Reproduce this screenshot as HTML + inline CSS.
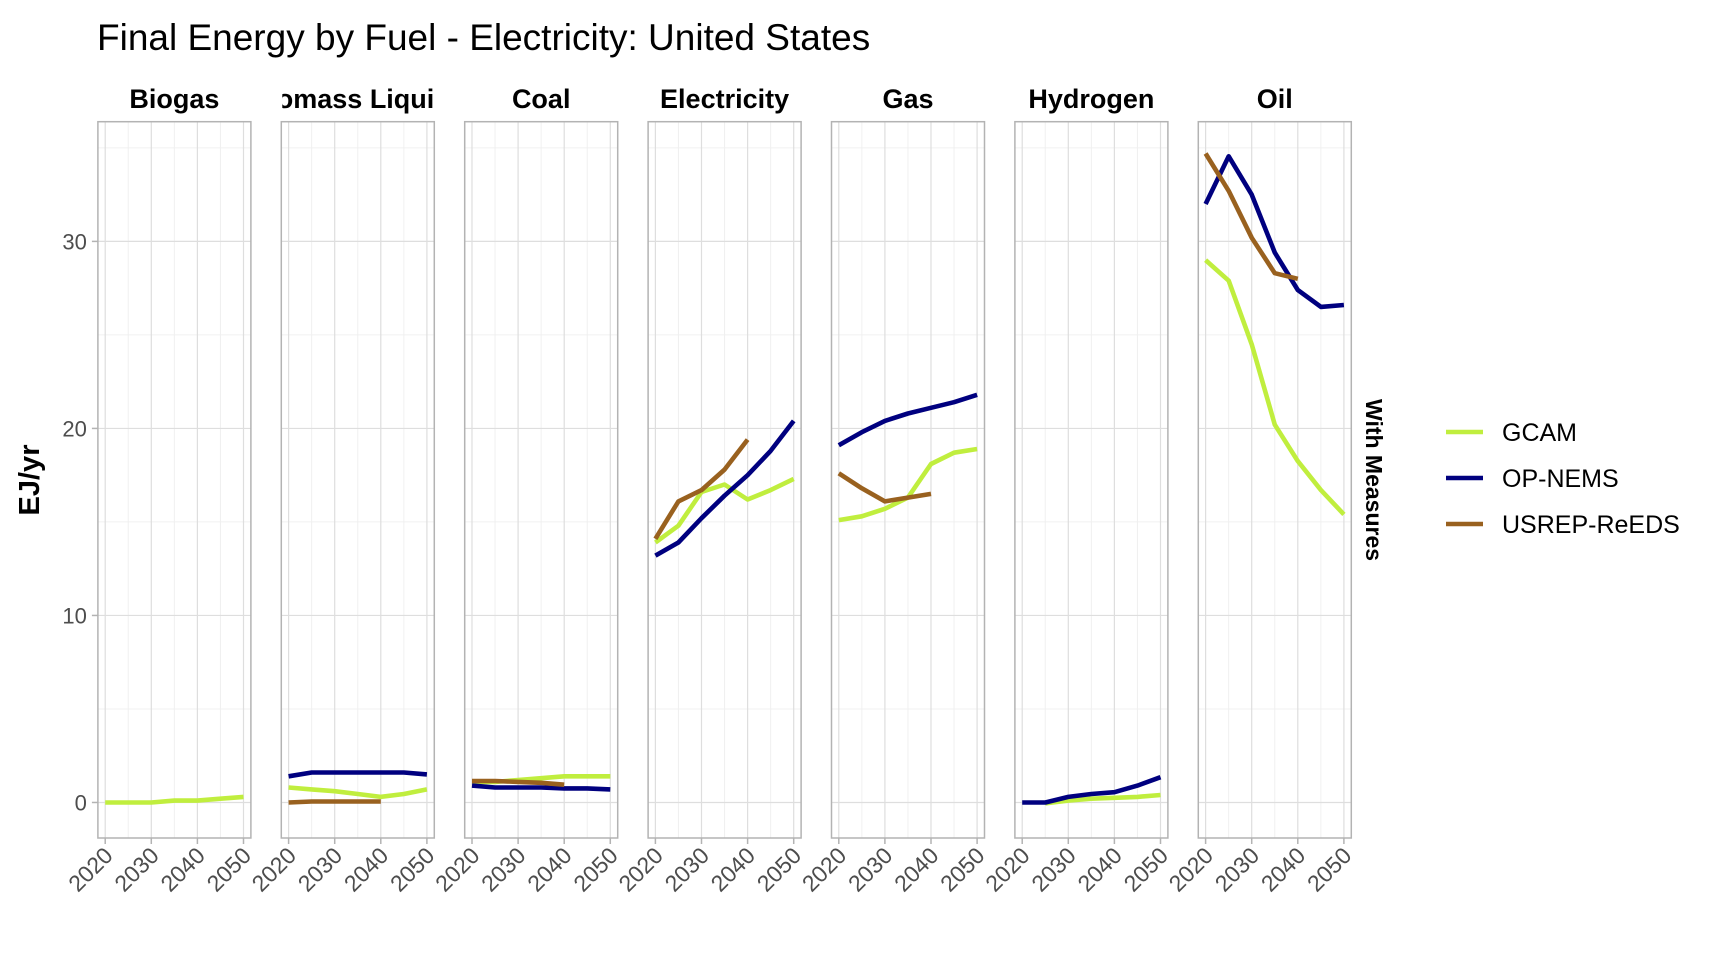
<!DOCTYPE html>
<html><head><meta charset="utf-8"><style>
html,body{margin:0;padding:0;background:#fff;}
svg{display:block;font-family:"Liberation Sans",Arial,sans-serif;}
</style></head><body>
<svg id="chart" width="1728" height="960" viewBox="0 0 1728 960">
<text x="97" y="50" font-size="37" fill="#000">Final Energy by Fuel - Electricity: United States</text>
<text transform="translate(39,480) rotate(-90)" text-anchor="middle" font-size="29" font-weight="bold">EJ/yr</text>
<text transform="translate(1366,480) rotate(90)" text-anchor="middle" font-size="23" font-weight="bold">With Measures</text>
<g id="panels"></g>
<g id="legend"></g>
</svg>
<script>
const facets = ["Biogas","Biomass Liquids","Coal","Electricity","Gas","Hydrogen","Oil"];
const years = [2020,2025,2030,2035,2040,2045,2050];
const models = ["GCAM","OP-NEMS","USREP-ReEDS"];
const colors = ["#c0ee3e","#00007f","#99611f"];
const yTicks = [0,10,20,30];
const xTicks = [2020,2030,2040,2050];
const gcamValues = [
 [0,0,0,0.1,0.1,0.2,0.3],
 [0.8,0.7,0.6,0.45,0.3,0.45,0.7],
 [1.1,1.1,1.2,1.3,1.4,1.4,1.4],
 [13.9,14.8,16.6,17.0,16.2,16.7,17.3],
 [15.1,15.3,15.7,16.3,18.1,18.7,18.9],
 [null,-0.05,0.1,0.2,0.25,0.3,0.4],
 [29.0,27.9,24.5,20.2,18.25,16.7,15.4]
];
const nemsValues = [
 [null,null,null,null,null,null,null],
 [1.4,1.6,1.6,1.6,1.6,1.6,1.5],
 [0.9,0.8,0.8,0.8,0.75,0.75,0.7],
 [13.2,13.9,15.2,16.4,17.5,18.8,20.4],
 [19.1,19.8,20.4,20.8,21.1,21.4,21.8],
 [0,0,0.3,0.45,0.55,0.9,1.35],
 [32.0,34.55,32.5,29.4,27.4,26.5,26.6]
];
const reedsValues = [
 [null,null,null,null,null,null,null],
 [0,0.05,0.05,0.05,0.05,null,null],
 [1.15,1.15,1.1,1.05,0.95,null,null],
 [14.1,16.1,16.7,17.8,19.4,null,null],
 [17.6,16.8,16.1,16.3,16.5,null,null],
 [null,null,null,null,null,null,null],
 [34.7,32.7,30.2,28.3,28.0,null,null]
];
const series = [gcamValues, nemsValues, reedsValues];

const NS="http://www.w3.org/2000/svg";
const P0=97.9, PITCH=183.4, PW=153, PT=121.7, PB=838;
const yMin=-1.9, yMax=36.4;
function yScale(v){return PB-(v-yMin)/(yMax-yMin)*(PB-PT);}
function xScale(i,yr){return P0+i*PITCH+7.3+(yr-2020)/30*138.3;}
function mk(tag,attrs,parent){const e=document.createElementNS(NS,tag);for(const k in attrs)e.setAttribute(k,attrs[k]);parent.appendChild(e);return e;}
const root=document.getElementById('panels');
facets.forEach((f,i)=>{
  const g=mk('g',{},root);
  
  
  const L=P0+i*PITCH;
  const cp=mk('clipPath',{id:'cp'+i},g);
  mk('rect',{x:L,y:PT,width:PW,height:PB-PT},cp);
  [5,15,25,35].forEach(v=>mk('line',{x1:L,x2:L+PW,y1:yScale(v),y2:yScale(v),stroke:'#f0f0f0','stroke-width':1},g));
  [2025,2035,2045].forEach(yr=>mk('line',{x1:xScale(i,yr),x2:xScale(i,yr),y1:PT,y2:PB,stroke:'#f0f0f0','stroke-width':1},g));
  yTicks.forEach(v=>mk('line',{x1:L,x2:L+PW,y1:yScale(v),y2:yScale(v),stroke:'#dedede','stroke-width':1.2},g));
  xTicks.forEach(yr=>mk('line',{x1:xScale(i,yr),x2:xScale(i,yr),y1:PT,y2:PB,stroke:'#dedede','stroke-width':1.2},g));
  mk('rect',{x:L,y:PT,width:PW,height:PB-PT,fill:'none',stroke:'#b3b3b3','stroke-width':1.5},g);
  const clipS=mk('clipPath',{id:'cs'+i},g);
  mk('rect',{x:L+1,y:80,width:PW-2,height:40},clipS);
  const st=mk('text',{x:L+PW/2,y:108,'text-anchor':'middle','font-size':27,'font-weight':'bold','clip-path':'url(#cs'+i+')'},g);
  st.textContent=f;
  
  
  xTicks.forEach(yr=>{
    const x=xScale(i,yr);
    mk('line',{x1:x,x2:x,y1:PB,y2:PB+6,stroke:'#b3b3b3','stroke-width':1.5},g);
    const t=mk('text',{transform:`translate(${x+9},${PB+19}) rotate(-45)`,'text-anchor':'end','font-size':23,fill:'#4d4d4d'},g);
    t.textContent=yr;
    
    
  });
  series.forEach((s,m)=>{
    let pts=[];
    s[i].forEach((v,k)=>{if(v!==null)pts.push(xScale(i,years[k]).toFixed(1)+','+yScale(v).toFixed(1));});
    if(pts.length>1){
      const pl=mk('polyline',{points:pts.join(' '),fill:'none',stroke:colors[m],'stroke-width':4.6,'stroke-linejoin':'round','clip-path':'url(#cp'+i+')'},g);
      
      
    }
  });
});
yTicks.forEach(v=>{
  mk('line',{x1:P0-6,x2:P0,y1:yScale(v),y2:yScale(v),stroke:'#b3b3b3','stroke-width':1.5},root);
  const t=mk('text',{x:P0-11,y:yScale(v)+8,'text-anchor':'end','font-size':22,fill:'#4d4d4d'},root);
  t.textContent=v;
  
  
});
const lg=document.getElementById('legend');
models.forEach((m,k)=>{
  const y=438+k*46;
  const e=mk('g',{},lg);
  
  
  mk('line',{x1:1446,x2:1483,y1:y-6,y2:y-6,stroke:colors[k],'stroke-width':4.5},e);
  const t=mk('text',{x:1502,y:y+3,'font-size':25},e);
  t.textContent=m;
});
</script>
</body></html>
